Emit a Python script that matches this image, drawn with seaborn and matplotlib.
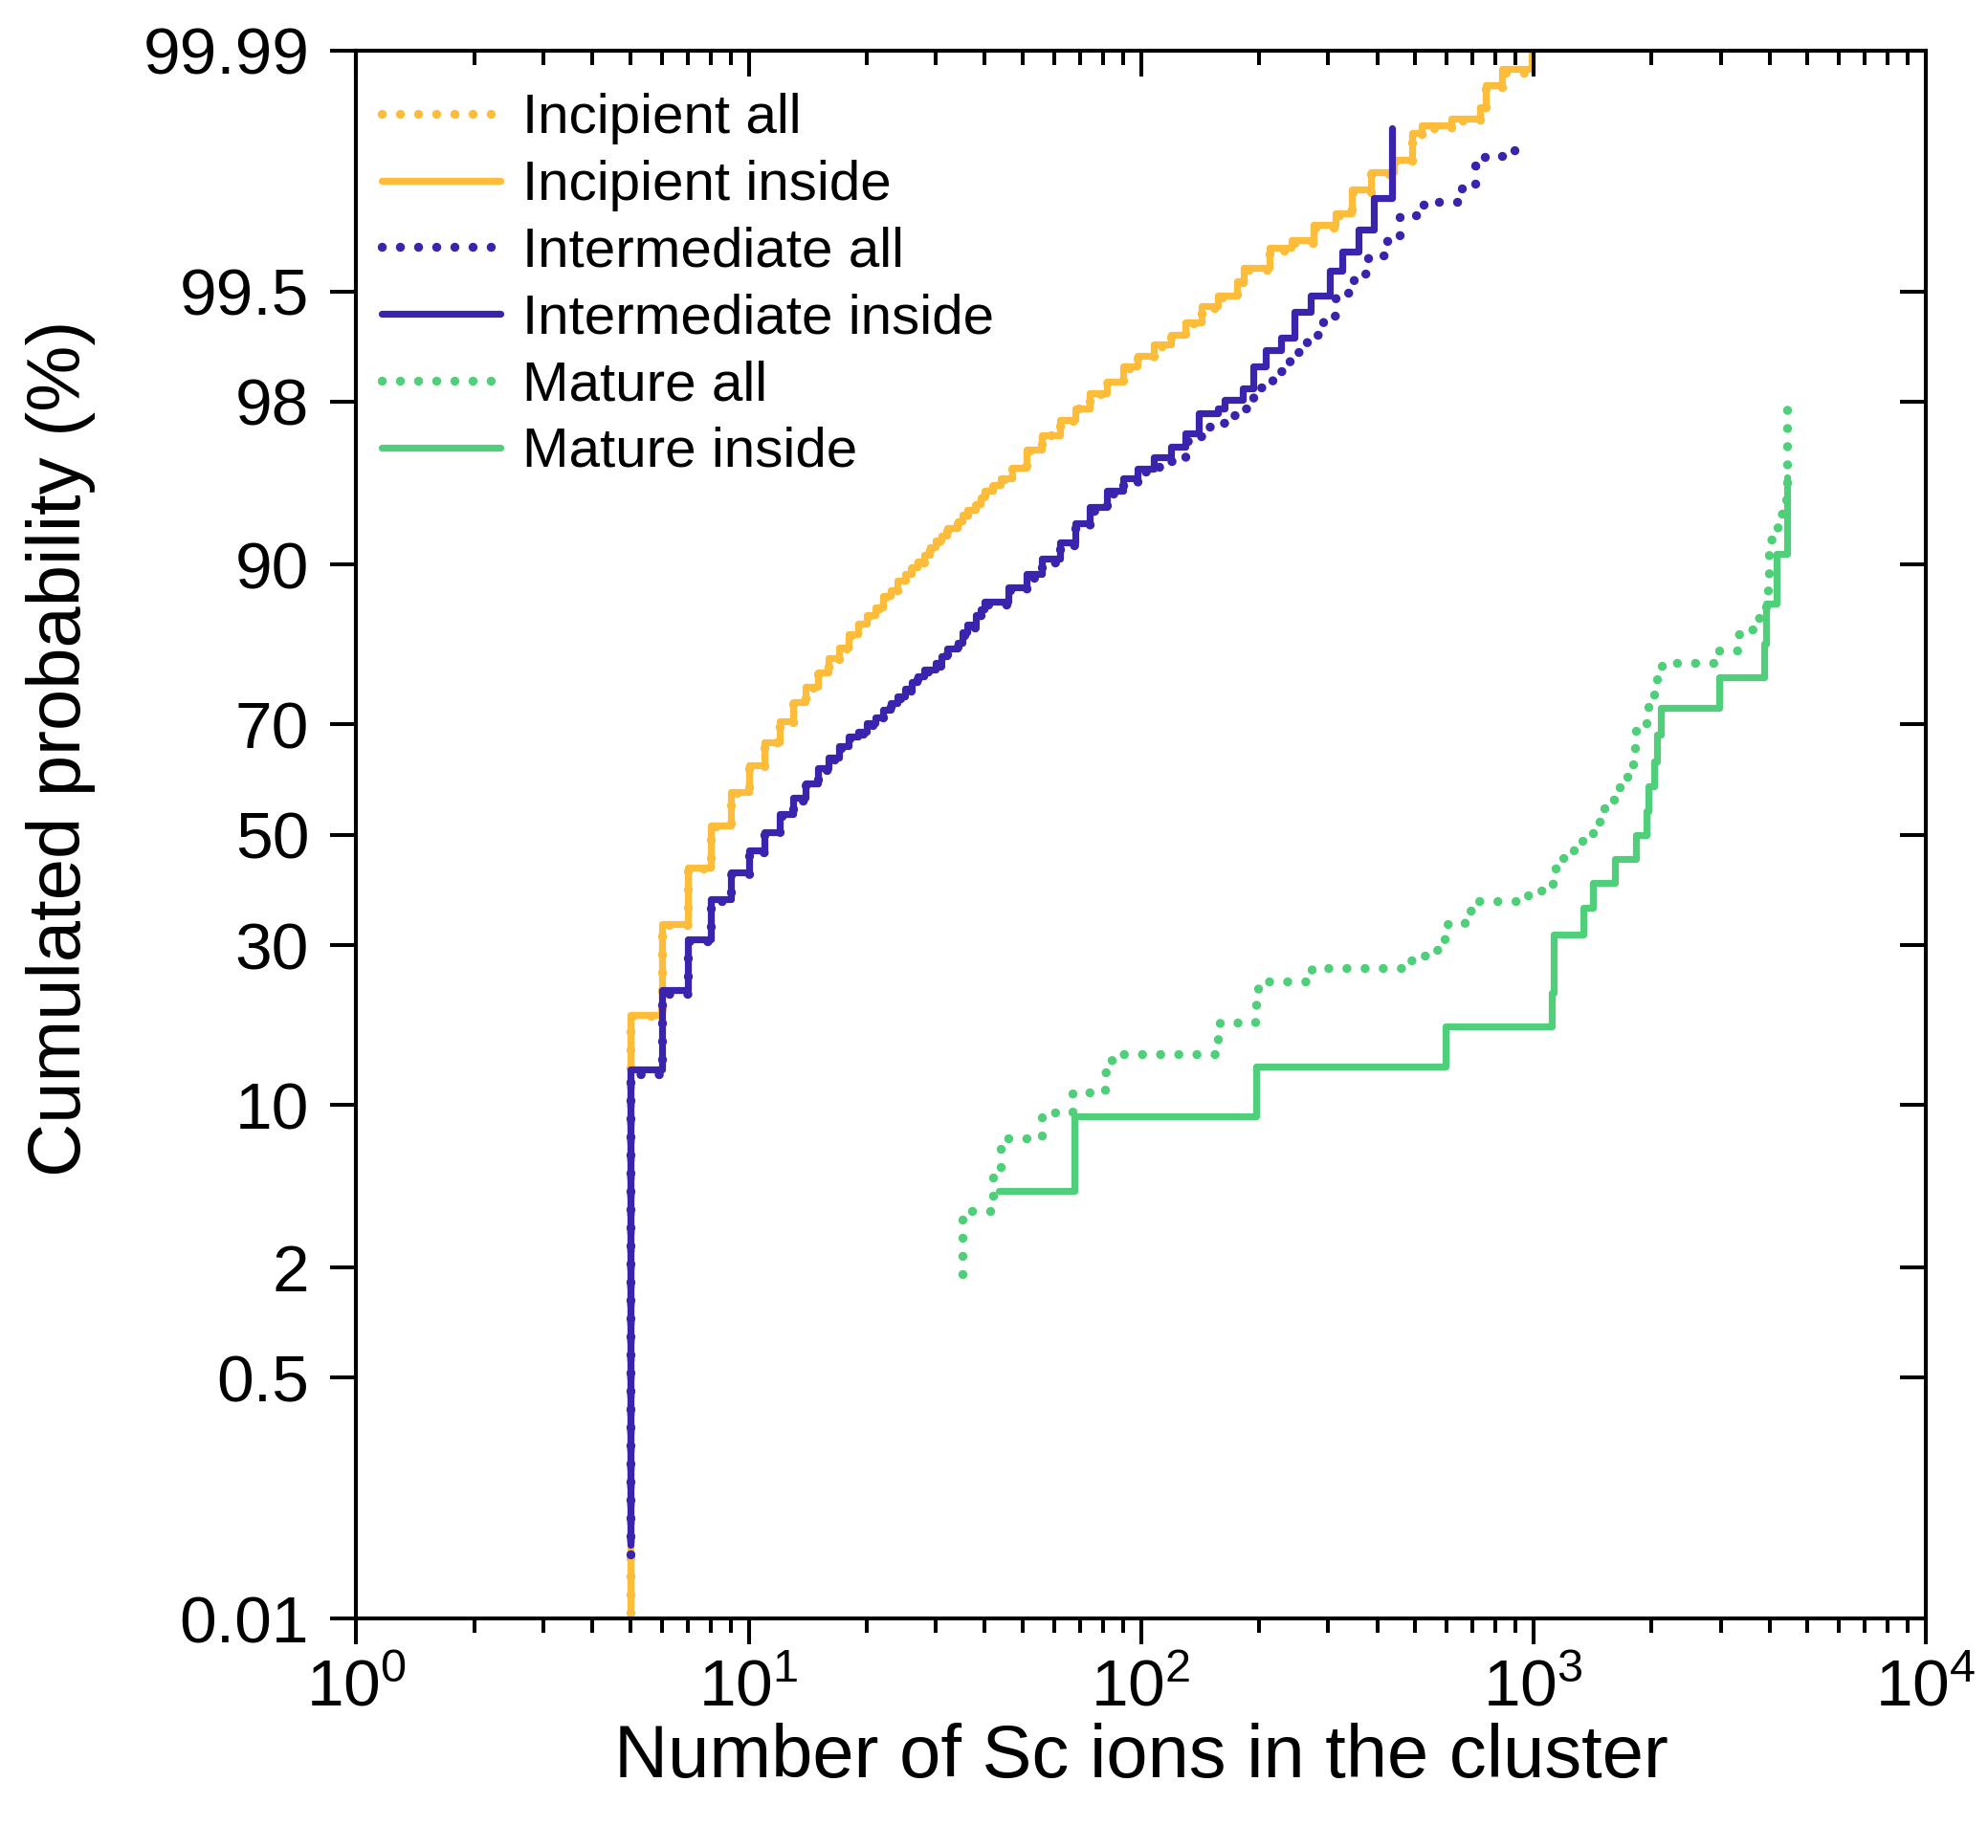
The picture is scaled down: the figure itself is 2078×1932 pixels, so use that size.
from statistics import NormalDist
import numpy as np
import matplotlib
matplotlib.use("Agg")
import matplotlib.pyplot as plt
from matplotlib.ticker import FixedLocator, FixedFormatter, NullLocator, LogLocator, NullFormatter
import seaborn as sns

# cluster size (number of Sc ions) and cumulated probability (%)
inc_in_x = [5, 5, 6, 7, 8, 9, 10, 11, 12, 13, 14, 15, 16, 17, 18, 19, 20, 21, 22, 23, 24, 25, 26,
            27, 28, 29, 30, 31, 32, 34, 35, 36, 38, 39, 40, 42, 44, 47, 51, 56, 62, 68, 74, 82,
            90, 98, 108, 119, 130, 143, 157, 176, 183, 212, 242, 275, 314, 345, 386, 440, 492,
            520, 616, 729, 757, 831, 990]
inc_in_p = [0.008, 19.6, 33.6, 43.8, 51.7, 58.0, 62.9, 67.0, 70.5, 73.5, 75.8, 77.9, 79.9, 81.3,
            82.9, 84.2, 85.1, 86.0, 87.1, 87.7, 88.6, 89.2, 89.76, 90.28, 90.79, 91.4, 91.87, 92.2,
            92.74, 93.15, 93.54, 93.82, 94.18, 94.52, 94.85, 95.16, 95.46, 95.9, 96.6, 97.1, 97.55,
            97.85, 98.18, 98.42, 98.68, 98.85, 99.0, 99.11, 99.25, 99.39, 99.47, 99.57, 99.64,
            99.73, 99.76, 99.81, 99.84, 99.89, 99.916, 99.932, 99.956, 99.962, 99.966, 99.972,
            99.981, 99.986, 99.995]

inc_all_x = [5, 5, 6, 7, 8, 9, 10, 11, 12, 13, 14, 15, 16, 17, 18, 19, 20, 21, 22, 23, 24, 25, 26,
             27, 28, 29, 30, 31, 32, 34, 35, 36, 38, 39, 40, 42, 44, 47, 51, 56, 62, 68, 74, 82,
             90, 98, 108, 119, 130, 143, 157, 176, 183, 212, 242, 275, 314, 345, 386, 440, 492,
             520, 616, 729, 757, 831, 947]
inc_all_p = [0.008, 19.5, 33.5, 43.7, 51.6, 57.9, 62.8, 66.9, 70.4, 73.4, 75.7, 77.8, 79.8, 81.2,
             82.8, 84.1, 85.0, 85.9, 87.0, 87.6, 88.5, 89.1, 89.7, 90.2, 90.7, 91.3, 91.8, 92.1,
             92.7, 93.1, 93.5, 93.8, 94.15, 94.5, 94.82, 95.13, 95.43, 95.88, 96.58, 97.08, 97.53,
             97.83, 98.16, 98.4, 98.66, 98.83, 98.98, 99.1, 99.24, 99.38, 99.46, 99.56, 99.63,
             99.72, 99.75, 99.8, 99.835, 99.885, 99.913, 99.93, 99.955, 99.96, 99.965, 99.971,
             99.98, 99.985, 99.988]

int_in_x = [5, 5, 6, 7, 8, 9, 10, 11, 12, 13, 14, 15, 16, 17, 18, 19, 20, 21, 22, 23, 24, 25, 26,
            27, 28, 30, 31, 32, 34, 35, 36, 38, 39, 40, 46, 51, 56, 62, 68, 74, 82, 90, 98, 108,
            119, 130, 140, 157, 163, 182, 193, 208, 228, 246, 270, 302, 326, 358, 393, 436]
int_in_p = [0.038, 13.3, 23.1, 31.0, 38.0, 42.9, 47.0, 50.5, 53.9, 56.9, 59.7, 62.4, 64.3, 66.3,
            67.9, 68.7, 70.1, 71.1, 72.4, 73.4, 74.4, 75.6, 76.5, 77.4, 78.3, 79.2, 80.1, 81.1,
            81.9, 83.1, 84.0, 85.1, 85.8, 86.6, 88.0, 89.2, 90.5, 91.75, 93.0, 94.0, 94.85, 95.46,
            95.87, 96.32, 96.73, 97.15, 97.73, 97.85, 98.04, 98.28, 98.68, 98.92, 99.08, 99.34,
            99.47, 99.625, 99.715, 99.795, 99.874, 99.96]

int_all_x = [5, 5, 6, 7, 8, 9, 10, 11, 12, 13, 14, 15, 16, 17, 18, 19, 20, 21, 22, 23, 24, 25, 26,
             27, 28, 30, 31, 32, 34, 35, 36, 38, 39, 40, 46, 51, 56, 62, 68, 74, 82, 90, 98, 109,
             119, 130, 138, 145, 157, 168, 179, 193, 216, 239, 265, 291, 314, 348, 378, 423, 456,
             525, 658, 709, 750, 893, 893]
int_all_p = [0.032, 12.8, 22.5, 30.6, 37.6, 42.5, 46.6, 50.1, 53.5, 56.5, 59.3, 62.0, 64.0, 66.0,
             67.6, 68.4, 69.8, 70.8, 72.1, 73.1, 74.1, 75.3, 76.2, 77.1, 78.0, 78.9, 79.8, 80.8,
             81.6, 82.8, 83.7, 84.8, 85.5, 86.3, 87.7, 88.9, 90.2, 91.5, 92.8, 93.8, 94.7, 95.3,
             95.75, 95.94, 96.2, 96.9, 97.05, 97.36, 97.47, 97.67, 97.85, 98.31, 98.6, 98.9, 99.11,
             99.31, 99.49, 99.61, 99.7, 99.77, 99.835, 99.865, 99.895, 99.925, 99.936, 99.94,
             99.956]

mat_all_x = [35, 35, 42, 44, 56, 67, 81, 84, 157, 159, 195, 197, 199, 272, 488, 525, 561, 588, 594,
             670, 709, 940, 1011, 1121, 1142, 1208, 1266, 1340, 1416, 1471, 1514, 1600, 1660, 1731,
             1797, 1816, 1830, 1945, 1964, 2031, 2070, 2125, 2977, 3335, 3596, 3734, 3926, 3950,
             3983, 4193, 4193, 4311, 4395, 4436, 4436]
mat_all_p = [1.86, 3.7, 5.6, 7.5, 9.4, 11.1, 13.0, 14.9, 16.8, 18.7, 20.5, 22.4, 24.4, 26.3, 27.6,
             28.3, 29.2, 30.8, 33.6, 36.0, 37.7, 38.7, 39.5, 42.7, 45.6, 47.1, 48.8, 50.3, 51.8,
             54.2, 56.6, 58.2, 60.3, 62.2, 64.1, 66.9, 69.6, 70.9, 73.3, 75.2, 77.4, 79.2, 80.9,
             82.9, 83.5, 84.8, 87.5, 89.2, 91.9, 92.5, 93.6, 94.3, 95.1, 95.8, 98.07]

mat_in_x = [43.5, 67.6, 197, 596, 1115, 1127, 1127, 1340, 1416, 1615, 1824, 1947, 1965, 2031,
            2060, 2118, 2967, 3874, 3912, 4168, 4436]
mat_in_p = [4.55, 9.09, 13.6, 18.2, 22.7, 27.3, 31.8, 36.4, 40.9, 45.5, 50.0, 54.5, 59.1, 63.6,
            68.2, 72.7, 77.3, 81.8, 86.4, 90.9, 95.5]

y_ticks = [0.01, 0.5, 2, 10, 30, 50, 70, 90, 98, 99.5, 99.99]
y_tick_labels = ["0.01", "0.5", "2", "10", "30", "50", "70", "90", "98", "99.5", "99.99"]

c_inc = "#fdbd3a"
c_int = "#3a23ad"
c_mat = "#50cf7a"

sns.set_style("ticks")
plt.rcParams["font.family"] = ["Liberation Sans", "DejaVu Sans"]
plt.rcParams["mathtext.fontset"] = "custom"
plt.rcParams["mathtext.rm"] = "Liberation Sans"
plt.rcParams["mathtext.default"] = "regular"
plt.rcParams["axes.edgecolor"] = "black"
plt.rcParams["axes.labelcolor"] = "black"
plt.rcParams["text.color"] = "black"
plt.rcParams["xtick.color"] = "black"
plt.rcParams["ytick.color"] = "black"
plt.rcParams["xtick.labelcolor"] = "black"
plt.rcParams["ytick.labelcolor"] = "black"

_nd = NormalDist()
_inv = np.vectorize(lambda q: _nd.inv_cdf(q) if 0 < q < 1 else np.nan, otypes=[float])
_cdf = np.vectorize(lambda z: _nd.cdf(z), otypes=[float])


def to_probit(p):
    q = np.clip(np.asarray(p, dtype=float) / 100.0, 1e-12, 1 - 1e-12)
    return _inv(q)


def from_probit(z):
    return _cdf(np.asarray(z, dtype=float)) * 100.0


fig, ax = plt.subplots(figsize=(10.39, 9.66), dpi=200)
fig.subplots_adjust(left=0.1792, right=0.9687, top=0.9726, bottom=0.1240)

dot = (0, (0.01, 2.0))
series = [
    (inc_all_x, inc_all_p, c_inc, dot, "Incipient all"),
    (inc_in_x, inc_in_p, c_inc, "-", "Incipient inside"),
    (int_all_x, int_all_p, c_int, dot, "Intermediate all"),
    (int_in_x, int_in_p, c_int, "-", "Intermediate inside"),
    (mat_all_x, mat_all_p, c_mat, dot, "Mature all"),
    (mat_in_x, mat_in_p, c_mat, "-", "Mature inside"),
]
for xs, ps, col, ls, lab in series:
    dotted = ls != "-"
    sns.lineplot(x=xs, y=ps, ax=ax, color=col, linestyle=ls, estimator=None, sort=False,
                 drawstyle="steps-post", lw=3.4 if dotted else 2.6,
                 dash_capstyle="round", label=lab)

ax.set_xscale("log")
ax.set_yscale("function", functions=(to_probit, from_probit))
ax.set_xlim(1, 1e4)
ax.set_ylim(0.01, 99.99)
ax.yaxis.set_major_locator(FixedLocator(y_ticks))
ax.yaxis.set_major_formatter(FixedFormatter(y_tick_labels))
ax.yaxis.set_minor_locator(NullLocator())
ax.xaxis.set_major_locator(LogLocator(base=10, numticks=10))
ax.xaxis.set_minor_locator(LogLocator(base=10, subs=np.arange(2, 10), numticks=10))
ax.xaxis.set_minor_formatter(NullFormatter())

for sp in ax.spines.values():
    sp.set_linewidth(1.45)
    sp.set_color("black")
ax.tick_params(axis="both", which="major", direction="out", length=9.7, width=1.45,
               labelsize=25, colors="black")
ax.tick_params(axis="both", which="minor", direction="out", length=5.4, width=1.45)
ax.tick_params(axis="y", pad=8)
ax.tick_params(axis="x", pad=5)

# right and top axes carry inward mirror ticks
axr = ax.twinx()
axr.set_yscale("function", functions=(to_probit, from_probit))
axr.set_ylim(0.01, 99.99)
axr.yaxis.set_major_locator(FixedLocator(y_ticks))
axr.yaxis.set_minor_locator(NullLocator())
axr.tick_params(axis="y", direction="in", length=9.7, width=1.45, labelright=False)

axt = ax.twiny()
axt.set_xscale("log")
axt.set_xlim(1, 1e4)
axt.xaxis.set_major_locator(LogLocator(base=10, numticks=10))
axt.xaxis.set_minor_locator(LogLocator(base=10, subs=np.arange(2, 10), numticks=10))
axt.tick_params(axis="x", which="major", direction="in", length=9.7, width=1.45, labeltop=False)
axt.tick_params(axis="x", which="minor", direction="in", length=5.4, width=1.45, labeltop=False)
for a in (axr, axt):
    for sp in a.spines.values():
        sp.set_linewidth(1.45)
        sp.set_color("black")

ax.set_xlabel("Number of Sc ions in the cluster", fontsize=28, color="black")
ax.set_ylabel("Cumulated probability (%)", fontsize=28, color="black")
ax.xaxis.set_label_coords(0.5, -0.066)
ax.yaxis.set_label_coords(-0.166, 0.555)

ax.legend(loc="upper left", bbox_to_anchor=(0.016, 0.973), frameon=False, fontsize=21,
          handlelength=2.14, handletextpad=0.38, labelspacing=0.27, borderaxespad=0,
          borderpad=0)

fig.savefig("out.png", dpi=200)
